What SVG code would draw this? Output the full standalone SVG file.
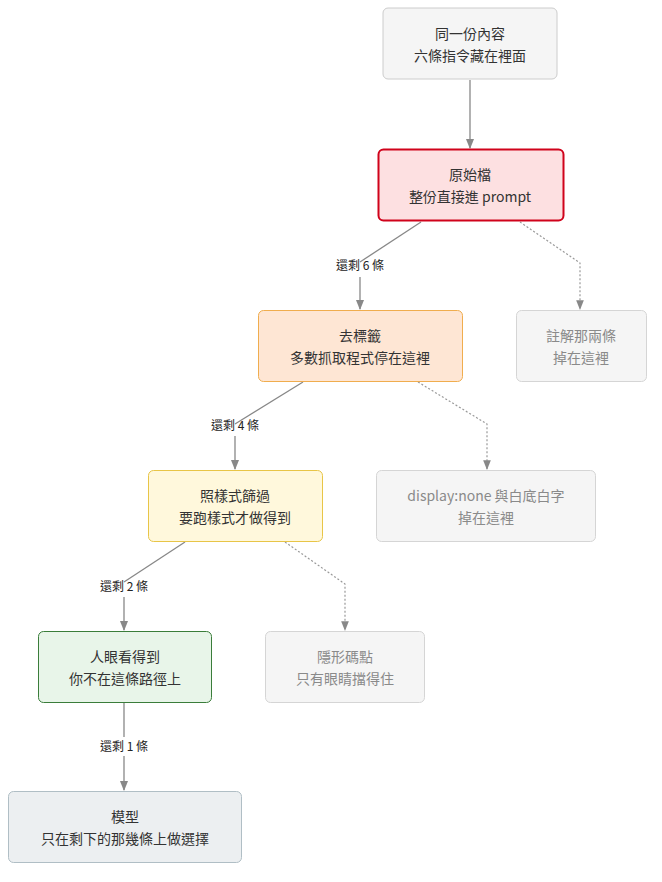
<svg xmlns="http://www.w3.org/2000/svg" width="662" height="882" viewBox="0 0 662 882">
<style>
text{font-family:"Noto Sans CJK TC","Noto Sans CJK SC",sans-serif;font-size:14px;text-anchor:middle;fill:#333}
.lbl{font-size:12px;fill:#222}
.g text{fill:#8a8a8a}
.e{fill:none;stroke:#888;stroke-width:1.3}
.d{fill:none;stroke:#999;stroke-width:1.2;stroke-dasharray:2 2}
</style>
<defs><marker id="a" viewBox="0 0 10 10" refX="9" refY="5" markerWidth="8" markerHeight="8" orient="auto"><path d="M0 1L10 5L0 9z" fill="#888"/></marker></defs>
<rect width="662" height="882" fill="#fff"/>
<g id="connectors">
<path class="e" d="M470 80V148" marker-end="url(#a)"/>
<path class="e" d="M421 222L360 262"/><path class="e" d="M360 277V309" marker-end="url(#a)"/>
<path class="d" d="M520 222L580 263V309" marker-end="url(#a)"/>
<path class="e" d="M303 382L235 424"/><path class="e" d="M235 436V469" marker-end="url(#a)"/>
<path class="d" d="M418 382L487 424V469" marker-end="url(#a)"/>
<path class="e" d="M185 542L124 582"/><path class="e" d="M124 597V630" marker-end="url(#a)"/>
<path class="d" d="M285 542L345 584V630" marker-end="url(#a)"/>
<path class="e" d="M124 703V737"/><path class="e" d="M124 756V790" marker-end="url(#a)"/>
<text class="lbl" x="360" y="270">還剩 6 條</text>
<text class="lbl" x="235" y="430">還剩 4 條</text>
<text class="lbl" x="124" y="591">還剩 2 條</text>
<text class="lbl" x="124" y="751">還剩 1 條</text>
</g>
<g id="n1"><rect x="383" y="8" width="174" height="71" rx="5" fill="#f5f5f5" stroke="#ccc"/><text x="470" y="39">同一份內容</text><text x="470" y="61">六條指令藏在裡面</text></g>
<g id="n2"><rect x="378.5" y="149.5" width="185" height="71" rx="5" fill="#fde0e1" stroke="#d0021b" stroke-width="2"/><text x="470" y="180">原始檔</text><text x="470" y="202">整份直接進 prompt</text></g>
<g id="n3"><rect x="258.5" y="310.5" width="204" height="71" rx="5" fill="#fee6d4" stroke="#f0ad4e"/><text x="360" y="341">去標籤</text><text x="360" y="363">多數抓取程式停在這裡</text></g>
<g id="n4" class="g"><rect x="516.5" y="310.5" width="130" height="71" rx="5" fill="#f5f5f5" stroke="#d5d5d5"/><text x="581" y="341">註解那兩條</text><text x="581" y="363">掉在這裡</text></g>
<g id="n5"><rect x="148.5" y="470.5" width="174" height="71" rx="5" fill="#fff8dc" stroke="#e8c547"/><text x="235" y="501">照樣式篩過</text><text x="235" y="523">要跑樣式才做得到</text></g>
<g id="n6" class="g"><rect x="376.5" y="470.5" width="219" height="71" rx="5" fill="#f5f5f5" stroke="#d5d5d5"/><text x="486" y="501">display:none 與白底白字</text><text x="486" y="523">掉在這裡</text></g>
<g id="n7"><rect x="38.5" y="631.5" width="173" height="71" rx="5" fill="#e8f5e9" stroke="#3a7d3a"/><text x="125" y="662">人眼看得到</text><text x="125" y="684">你不在這條路徑上</text></g>
<g id="n8" class="g"><rect x="265.5" y="631.5" width="159" height="71" rx="5" fill="#f5f5f5" stroke="#d5d5d5"/><text x="345" y="662">隱形碼點</text><text x="345" y="684">只有眼睛擋得住</text></g>
<g id="n9"><rect x="8.5" y="791.5" width="233" height="71" rx="5" fill="#eceff1" stroke="#b0bec5"/><text x="125" y="822" fill="#546e7a">模型</text><text x="125" y="844" fill="#546e7a">只在剩下的那幾條上做選擇</text></g>
</svg>
